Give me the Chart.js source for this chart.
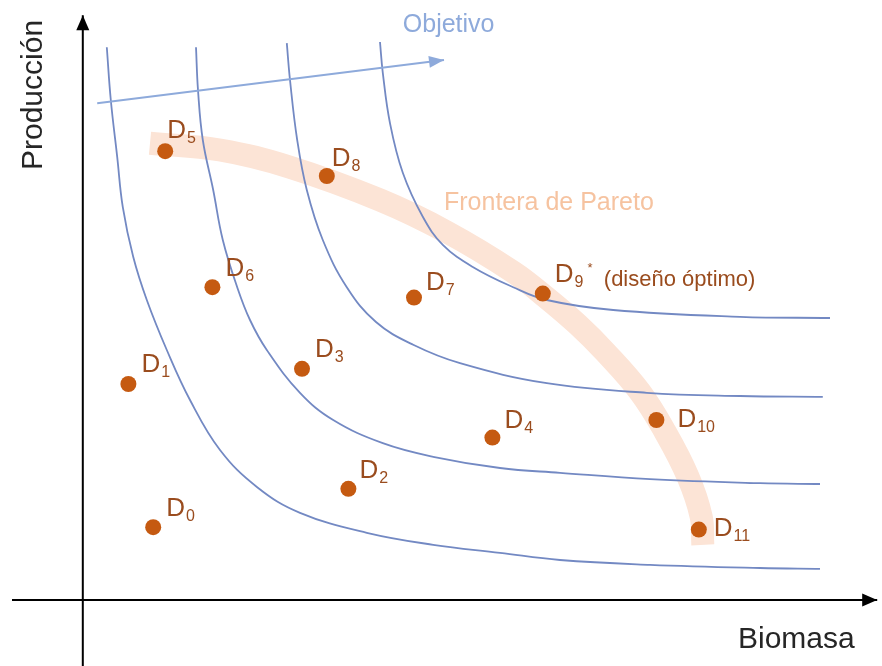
<!DOCTYPE html>
<html>
<head>
<meta charset="utf-8">
<script src="https://cdn.jsdelivr.net/npm/chart.js@4.4.0/dist/chart.umd.min.js"></script>
<style>
  html, body { margin: 0; padding: 0; background: #fff; }
  #wrap { width: 882px; height: 666px; }
</style>
</head>
<body>
<div id="wrap"><canvas id="paretoChart" width="882" height="666"></canvas></div>
<script>
// designs D0..D11
const designNames = ["0", "1", "2", "3", "4", "5", "6", "7", "8", "9", "10", "11"];
const biomasa    = [8.9, 5.8, 33.3, 27.5, 51.3, 10.4, 16.3, 41.5, 30.6, 57.6, 71.8, 77.1];
const produccion = [9.1, 27.0, 13.9, 28.9, 20.3, 56.1, 39.1, 37.8, 53.0, 38.3, 22.5, 8.8];

// iso-objective curves
const curve1X = [3.1, 3.6, 4.4, 5.1, 6.4, 8.1, 10.6, 13.5, 17.25, 21.9, 27.25, 35.6, 43.9, 52.25, 59.75, 71.0, 84.75, 92.25];
const curve1Y = [69.1, 62.5, 55.4, 49.1, 42.9, 37.5, 31.25, 25.0, 18.75, 14.1, 10.9, 8.4, 6.9, 5.9, 5.0, 4.4, 4.0, 3.9];
const curve2X = [14.25, 14.5, 15.1, 16.4, 17.6, 19.4, 21.0, 23.1, 27.25, 31.4, 37.6, 43.9, 52.25, 59.75, 71.0, 84.75, 92.25];
const curve2Y = [69.1, 63.75, 57.5, 51.25, 45.0, 39.1, 35.0, 31.25, 25.9, 22.5, 19.6, 17.9, 16.5, 15.9, 15.1, 14.6, 14.5];
const curve3X = [25.6, 26.0, 26.9, 28.1, 30.1, 33.1, 36.75, 41.4, 47.25, 58.1, 70.6, 82.25, 92.6];
const curve3Y = [69.6, 65.0, 57.5, 51.25, 45.0, 39.1, 34.75, 31.9, 29.6, 27.1, 25.9, 25.5, 25.4];
const curve4X = [37.25, 37.6, 38.5, 40.1, 42.6, 45.1, 48.9, 53.9, 58.1, 66.4, 82.25, 93.5];
const curve4Y = [69.75, 65.9, 59.6, 53.4, 47.9, 44.4, 41.6, 39.1, 37.5, 36.25, 35.4, 35.25];

// Pareto front band
const paretoX = [8.5, 17.25, 26.0, 37.25, 45.6, 53.9, 58.1, 62.0, 65.4, 69.75, 72.9, 75.75, 77.4, 77.6];
const paretoY = [57.1, 56.25, 54.1, 50.0, 46.0, 41.0, 37.75, 34.4, 31.0, 26.0, 21.0, 15.4, 10.4, 6.9];

// "Objetivo" direction arrow and the two axes
const objetivoX = [1.9, 45.25];
const objetivoY = [62.1, 67.5];
const axisXX = [-8.75, 99.4];
const axisXY = [0, 0];
const axisYX = [0, 0.1];
const axisYY = [-8.25, 73.1];

const toPts = (xs, ys) => xs.map((x, i) => ({ x: x, y: ys[i] }));

const curveColor = "#7389c3";
const curveStyle = {
    showLine: true, pointRadius: 0, borderColor: curveColor, borderWidth: 1.8,
    tension: 0.4, order: 2
};

// where each D label sits, relative to its point (px)
const labelOffsets = [[13, -11], [13, -12], [11, -11], [13, -12], [12, -10], [2, -13],
                      [13, -11], [12, -8], [5, -10], [12, -12], [21, 7], [15, 6]];

function arrowHead(ctx, x0, y0, x1, y1, len, half, color) {
    const a = Math.atan2(y1 - y0, x1 - x0);
    ctx.save();
    ctx.fillStyle = color;
    ctx.beginPath();
    ctx.moveTo(x1, y1);
    ctx.lineTo(x1 - len * Math.cos(a) + half * Math.sin(a), y1 - len * Math.sin(a) - half * Math.cos(a));
    ctx.lineTo(x1 - len * Math.cos(a) - half * Math.sin(a), y1 - len * Math.sin(a) + half * Math.cos(a));
    ctx.closePath();
    ctx.fill();
    ctx.restore();
}

const annotations = {
    id: "annotations",
    afterDatasetsDraw(chart) {
        const ctx = chart.ctx;
        const sx = chart.scales.x, sy = chart.scales.y;
        const px = v => sx.getPixelForValue(v), py = v => sy.getPixelForValue(v);

        // arrow heads
        arrowHead(ctx, px(axisXX[0]), py(axisXY[0]), px(axisXX[1]), py(axisXY[1]), 15, 6.5, "#000");
        arrowHead(ctx, px(axisYX[0]), py(axisYY[0]), px(axisYX[1]), py(axisYY[1]), 15, 6.5, "#000");
        arrowHead(ctx, px(objetivoX[0]), py(objetivoY[0]), px(objetivoX[1]), py(objetivoY[1]), 15, 6, "#8eaadb");

        ctx.save();
        ctx.textBaseline = "alphabetic";
        ctx.textAlign = "left";

        // D labels with subscripts
        const labelColor = "#9a4c1e";
        designNames.forEach((n, i) => {
            const x = px(biomasa[i]) + labelOffsets[i][0];
            const y = py(produccion[i]) + labelOffsets[i][1];
            ctx.fillStyle = labelColor;
            ctx.font = "26px 'Liberation Sans', Arial, sans-serif";
            ctx.fillText("D", x, y);
            const w = ctx.measureText("D").width;
            ctx.font = "16px 'Liberation Sans', Arial, sans-serif";
            ctx.fillText(n, x + w + 1, y + 5);
            if (n === "9") {
                const w2 = ctx.measureText(n).width;
                ctx.font = "13px 'Liberation Sans', Arial, sans-serif";
                ctx.fillText("*", x + w + w2 + 5, y - 10);
                ctx.font = "22px 'Liberation Sans', Arial, sans-serif";
                ctx.fillText("(diseño óptimo)", x + 49, y + 4);
            }
        });

        ctx.font = "25px 'Liberation Sans', Arial, sans-serif";
        ctx.fillStyle = "#8eaadb";
        ctx.fillText("Objetivo", px(40.1), py(71.0));
        ctx.fillStyle = "#f6c3a0";
        ctx.fillText("Frontera de Pareto", px(45.25), py(48.75));

        ctx.fillStyle = "#262626";
        ctx.font = "30px 'Liberation Sans', Arial, sans-serif";
        ctx.fillText("Biomasa", px(82), py(-6));
        ctx.translate(px(-5), py(53.75));
        ctx.rotate(-Math.PI / 2);
        ctx.fillText("Producción", 0, 0);
        ctx.restore();
    }
};

const ctx = document.getElementById("paretoChart").getContext("2d");

new Chart(ctx, {
    type: "scatter",
    data: {
        datasets: [
            {
                label: "Diseños",
                data: toPts(biomasa, produccion),
                backgroundColor: "#c55a11",
                borderWidth: 0,
                pointRadius: 8,
                order: 0
            },
            { label: "c1", data: toPts(curve1X, curve1Y), ...curveStyle },
            { label: "c2", data: toPts(curve2X, curve2Y), ...curveStyle },
            { label: "c3", data: toPts(curve3X, curve3Y), ...curveStyle },
            { label: "c4", data: toPts(curve4X, curve4Y), ...curveStyle },
            {
                label: "Frontera de Pareto",
                data: toPts(paretoX, paretoY),
                showLine: true,
                pointRadius: 0,
                borderColor: "#fce4d6",
                borderWidth: 23,
                borderCapStyle: "butt",
                tension: 0.4,
                order: 3
            },
            {
                label: "Objetivo",
                data: toPts(objetivoX, objetivoY),
                showLine: true,
                pointRadius: 0,
                borderColor: "#8eaadb",
                borderWidth: 2,
                order: 1
            },
            { label: "ejeX", data: toPts(axisXX, axisXY), showLine: true, pointRadius: 0, borderColor: "#000", borderWidth: 2, order: 1 },
            { label: "ejeY", data: toPts(axisYX, axisYY), showLine: true, pointRadius: 0, borderColor: "#000", borderWidth: 2, order: 1 }
        ]
    },
    options: {
        responsive: false,
        animation: false,
        layout: { padding: 0, autoPadding: false },
        plugins: {
            legend: { display: false },
            tooltip: { enabled: false }
        },
        scales: {
            x: { type: "linear", min: -10.25, max: 100, display: false },
            y: { type: "linear", min: -8.25, max: 75, display: false }
        }
    },
    plugins: [annotations]
});
</script>
</body>
</html>
